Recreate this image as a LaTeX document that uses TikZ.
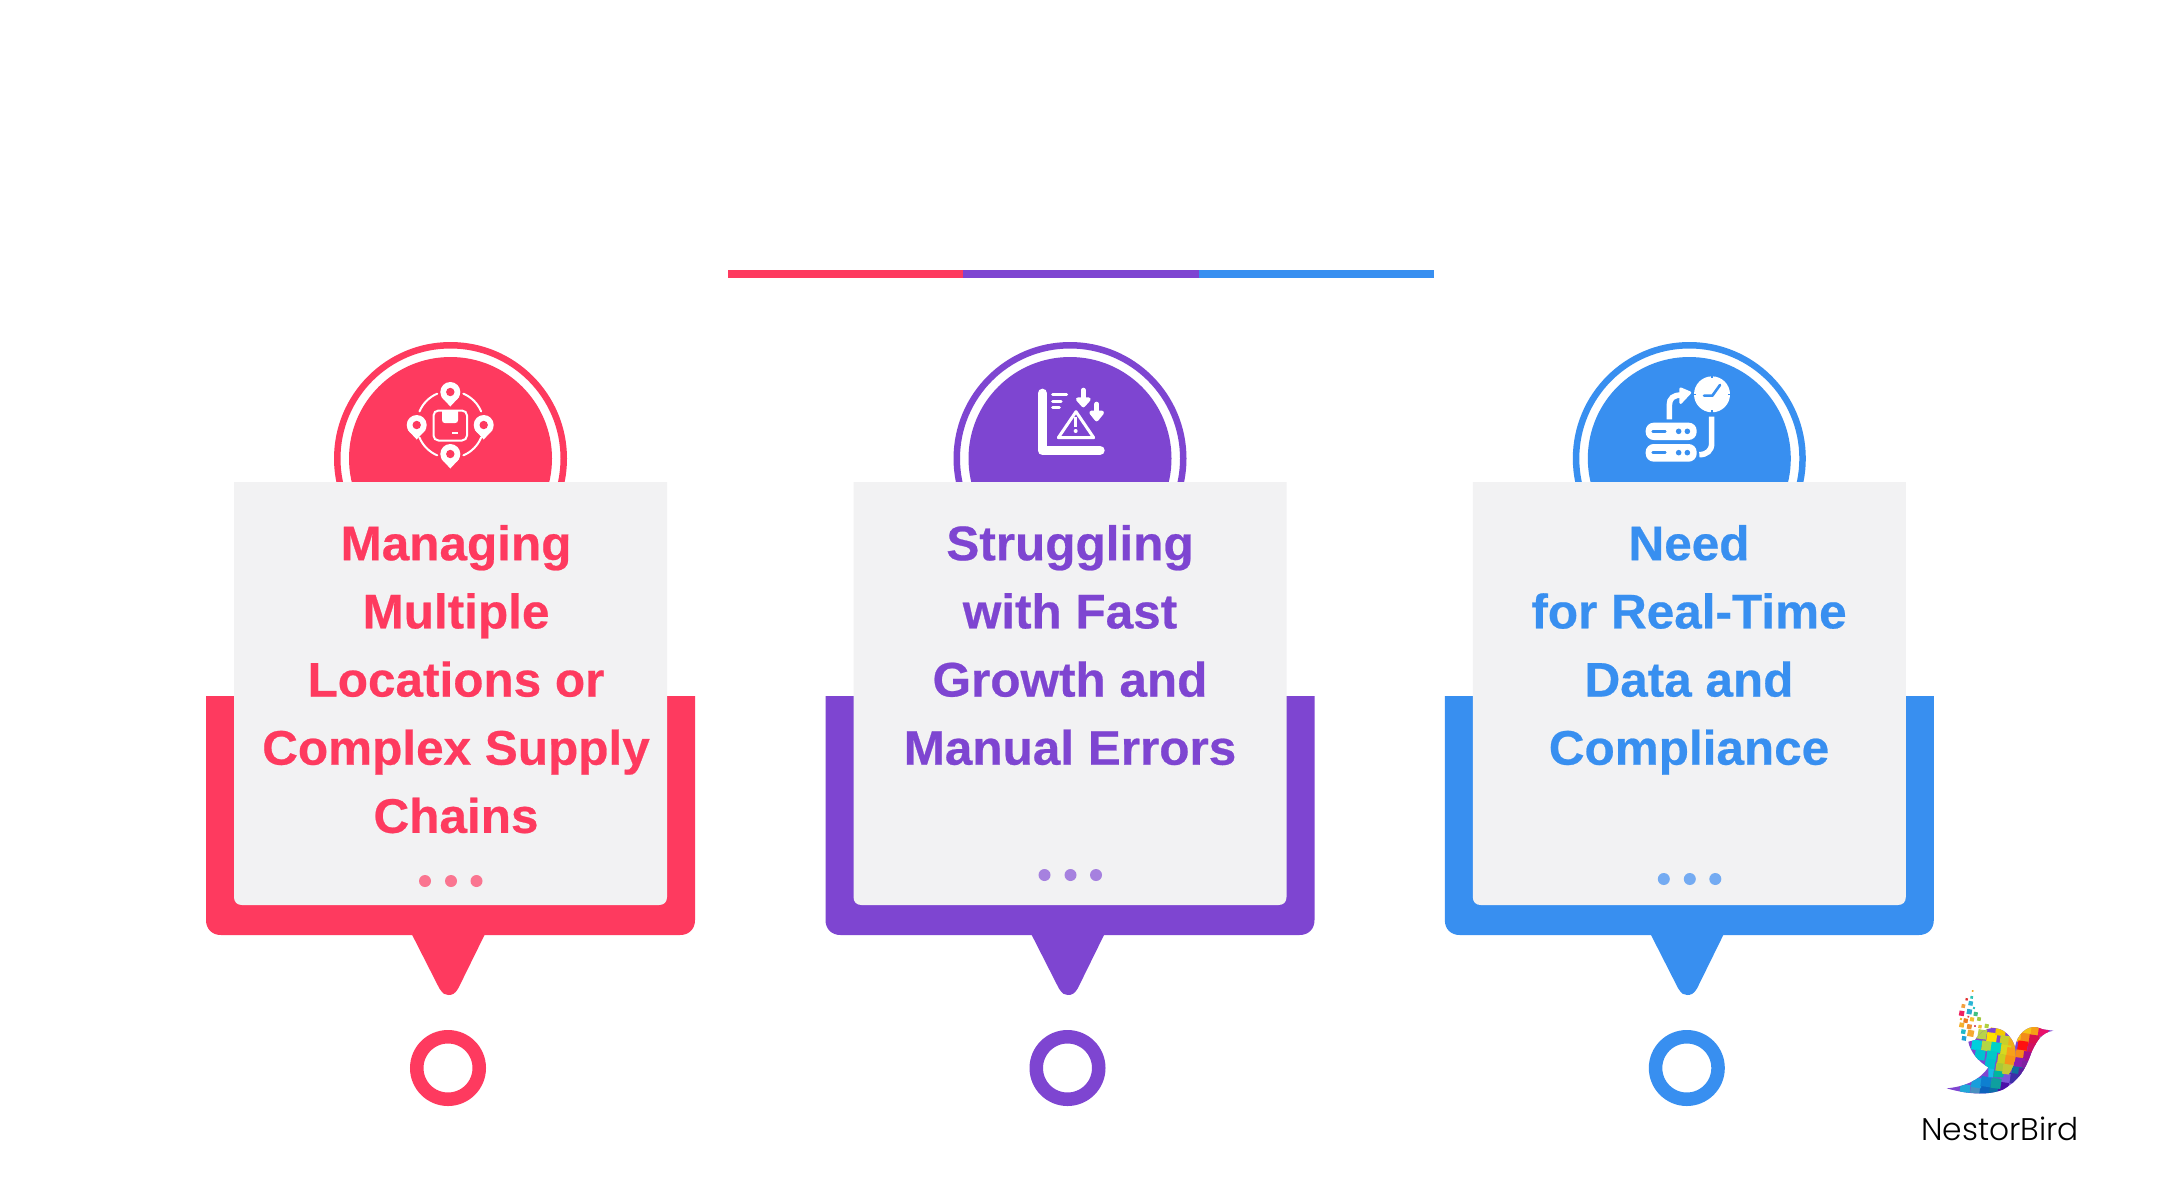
\documentclass[tikz,border=0pt]{standalone}
\usepackage{fontspec}
\newfontfamily\headfont[FakeStretch=1.02,FakeBold=0.5]{Liberation Sans}
\newfontfamily\logofont{Poppins Light}
\definecolor{cred}{HTML}{FE3A5F}
\definecolor{cpur}{HTML}{7E45D1}
\definecolor{cblu}{HTML}{388FF0}
\definecolor{cgray}{HTML}{F2F2F3}
\definecolor{dred}{HTML}{FA7590}
\definecolor{dpur}{HTML}{A681DF}
\definecolor{dblu}{HTML}{74ABF2}
\tikzset{
  cardtext/.style={font=\headfont\bfseries\fontsize{48.5}{68.15}\selectfont, align=center, anchor=north, inner sep=0pt},
  logotext/.style={font=\logofont\fontsize{31.3}{36}\selectfont, anchor=base, inner sep=0pt, text=black},
}
\newcommand{\mypin}[3]{%
  \fill[white] (#1,#2) circle[radius=10pt];
  \fill[white] (#1-8.8,#2+5) -- (#1,#2+14.5) -- (#1+8.8,#2+5) -- cycle;
  \fill[#3] (#1,#2) circle[radius=4.2pt];
}
\begin{document}
\begin{tikzpicture}[x=1pt,y=-1pt]
\useasboundingbox (0,0) rectangle (2160,1200);
\fill[white] (0,0) rectangle (2160,1200);
% top bar
\fill[cred] (728,270) rectangle (963,278);
\fill[cpur] (963,270) rectangle (1199,278);
\fill[cblu] (1199,270) rectangle (1434,278);
% cards
\foreach \dx/\c/\d/\dy in {0/cred/dred/881, 619.5/cpur/dpur/875, 1238.8/cblu/dblu/879}{
  \begin{scope}[shift={(\dx,0)}]
    \draw[\c, line width=6.5pt] (450.5,458.5) circle[radius=113.25pt];
    \fill[\c] (450.5,458.5) circle[radius=101.5pt];
    \fill[\c] (206,696) -- (206,920) .. controls (206,929) and (212,935) .. (221,935)
       -- (680,935) .. controls (689,935) and (695,929) .. (695,920) -- (695,696) -- cycle;
    \fill[\c] (411.7,934) -- (439.3,988.3) .. controls (443,994) and (445,995) .. (448.3,995)
       .. controls (452,995) and (455,994) .. (458.3,988.3) -- (485,934) -- cycle;
    \fill[cgray] (234,482) -- (234,897) .. controls (234,902) and (237,905) .. (242,905)
       -- (659,905) .. controls (664,905) and (667,902) .. (667,897) -- (667,482) -- cycle;
    \fill[\d] (425,\dy) circle[radius=6pt];
    \fill[\d] (451,\dy) circle[radius=6pt];
    \fill[\d] (476.5,\dy) circle[radius=6pt];
    \draw[\c, line width=13.5pt] (448,1068) circle[radius=31.25pt];
  \end{scope}
}
% texts
\node[cardtext, text=cred] (t1) at (456,520) {\rule{0pt}{40pt}Managing\\Multiple\\Locations or\\Complex Supply\\Chains};
\node[cardtext, text=cpur] (t2) at (1070,520) {\rule{0pt}{40pt}Struggling\\with Fast\\Growth and\\Manual Errors};
\node[cardtext, text=cblu] (t3) at (1689,520) {\rule{0pt}{40pt}Need\\for Real-Time\\Data and\\Compliance};
% icon 1
\mypin{450.3}{392}{cred}
\mypin{416.7}{425}{cred}
\mypin{483.7}{425}{cred}
\mypin{450.3}{454}{cred}
\foreach \a in {23,113,203,293}{
  \draw[white, line width=2pt, line cap=round] (450.3,424.5) ++(\a:33.5pt) arc[start angle=\a, delta angle=44, radius=33.5pt];
}
\draw[white, line width=2pt, rounded corners=5pt] (433.5,410.5) rectangle (467,440.5);
\fill[white] (442,410.5) -- (442,420) .. controls (442,422) and (443,423) .. (445,423) -- (455,423) .. controls (457,423) and (458,422) .. (458,420) -- (458,410.5) -- cycle;
\draw[white, line width=1.6pt] (452,433) -- (458,433);
% icon 2
\begin{scope}[shift={(950,330)}, x=0.33333pt, y=-0.33333pt]
  \draw[white, line width=9.4pt, line cap=round, line join=round] (277,190) -- (277,361) -- (450,361);
  \draw[white, line width=3pt, line cap=round] (308,193) -- (350,193);
  \draw[white, line width=3pt, line cap=round] (308,213) -- (333,213);
  \draw[white, line width=3pt, line cap=round] (308,233) -- (328,233);
  \draw[white, line width=4.6pt, line cap=round] (400,180) -- (400,210);
  \filldraw[white, line width=4pt, line join=round] (384,208) -- (400,226) -- (416,208) -- cycle;
  \draw[white, line width=4.6pt, line cap=round] (440,222) -- (440,250);
  \filldraw[white, line width=4pt, line join=round] (424,248) -- (440,268) -- (456,248) -- cycle;
  \draw[white, line width=3pt, line join=round] (378,245) -- (325,323) -- (431,323) -- cycle;
  \draw[white, line width=3pt] (377,262) -- (377,292);
  \fill[white] (377,303) circle[radius=2pt];
\end{scope}
% icon 3
\begin{scope}[shift={(1570,330)}, x=0.33333pt, y=-0.33333pt]
  \fill[white] (426,193) circle[radius=18pt];
  \foreach \a in {0,90,180,270}{
    \draw[cblu, line width=1.2pt] (426,193) ++(\a:18.5pt) -- ++(\a+180:2.5pt);
  }
  \draw[cblu, line width=2.6pt, line join=round, line cap=round] (450,165) -- (427,197) -- (402,197);
  \draw[white, line width=5.6pt] (298,268) -- (298,225) .. controls (298,205) and (310,195) .. (335,195);
  \filldraw[white, line width=2.5pt, line join=round] (332,176) -- (360,188) -- (332,218) -- cycle;
  \draw[white, line width=5.6pt] (425,260) -- (425,340) .. controls (425,362) and (410,374) .. (388,374);
  \fill[white, rounded corners=8pt] (227,278) rectangle (380,330);
  \fill[white, rounded corners=8pt] (227,342) rectangle (380,395);
  \foreach \yy in {304,368}{
    \draw[cblu, line width=2.4pt, line cap=round] (248,\yy) -- (286,\yy);
    \fill[cblu] (326,\yy) circle[radius=2.8pt];
    \fill[cblu] (352,\yy) circle[radius=2.8pt];
  }
\end{scope}
% logo: loose squares
\begin{scope}[shift={(1900,980)}, x=0.33333pt, y=-0.33333pt]
  \foreach \px/\py/\s/\h in {218/33/5/F5A623, 215/52/8/2EC4B6, 200/58/7/E03030, 212/70/13/2AB5D5, 190/78/11/F2A040, 222/84/6/2EC4C4, 208/95/15/2AAAD0, 185/100/15/EE2060, 227/102/12/40C080, 183/117/6/F5B030, 197/122/13/EE7A20, 216/118/12/F5C030, 237/117/11/A0C840, 205/110/5/E04040, 185/135/14/F5B030, 208/140/14/F09030, 225/138/5/D04060, 240/140/10/F0C030, 260/138/12/B0D040, 190/155/13/20B8C8, 212/160/19/F5A830, 192/175/13/20A0D8, 245/160/22/B8D34A, 278/150/14/F5C030}{
    \edef\tmpc{\noexpand\definecolor{tmpk}{HTML}{\h}}\tmpc
    \fill[tmpk, rotate around={-10:(\px,\py)}] ({\px-\s/2},{\py-\s/2}) rectangle ({\px+\s/2},{\py+\s/2});
  }
\end{scope}
% logo: bird mosaic
\begin{scope}[shift={(1960,990)}, x=0.33333pt, y=-0.33333pt]
  \begin{scope}
    \clip (-40,295) .. controls (10,290) and (55,275) .. (85,232) .. controls (55,215) and (30,185) .. (25,155) -- (45,150) .. controls (60,125) and (85,110) .. (110,115) .. controls (140,120) and (160,150) .. (165,172) .. controls (170,135) and (200,105) .. (232,112) .. controls (245,118) .. (280,122) .. controls (245,128) and (232,150) .. (215,185) .. controls (195,245) and (170,275) .. (130,298) .. controls (90,315) and (30,315) .. (-40,295) -- cycle;
    \fill[cpur] (-50,100) rectangle (290,320);
    % far wing and lower body first
    \foreach \px/\py/\h in {205/118/F5C416, 175/140/F5C01A, 228/125/F5A016, 250/125/E8106A, 197/145/F28C1A, 222/150/D8104E, 188/168/FF1010, 218/175/D01060, 182/195/F78A1A, 205/200/A0108F, 178/218/8E1CB0, 200/228/8020A0, 170/245/0F6F9F, 190/250/5A20A0, 160/265/3D2FA8, 135/265/7B55D9, 15/298/20A8D8, 47/295/4A8FC0, 75/298/0C62BD, 103/300/0D6EA8, 130/292/4B10A8, 50/278/1A9EDB, 78/275/0E7FD0, 108/280/0F9F9F}{
      \edef\tmpc{\noexpand\definecolor{tmpk}{HTML}{\h}}\tmpc
      \fill[tmpk, rotate around={-8:(\px,\py)}] ({\px-15},{\py-15}) rectangle ({\px+15},{\py+15});
    }
    % near wing on top, clipped to its own edge
    \clip (25,155) -- (45,150) .. controls (60,125) and (85,110) .. (110,115) .. controls (140,120) and (160,150) .. (165,172) .. controls (172,205) and (160,235) .. (140,262) -- (85,262) -- (85,232) .. controls (55,215) and (30,185) .. (25,155) -- cycle;
    \foreach \px/\py/\h in {65/132/B8D34A, 95/143/FFE100, 122/122/F5C800, 135/152/C9CF2A, 160/160/F0AD1A, 50/165/00CFDD, 80/168/B4D645, 108/172/00D2C8, 137/180/D8D81E, 60/195/00C2D0, 95/198/00C8C8, 128/208/C8D020, 155/188/F7A11A, 90/222/00BFCE, 122/235/A8C838, 150/212/F79418, 85/250/18BAE8, 115/258/00B6A0, 143/238/C5C833}{
      \edef\tmpc{\noexpand\definecolor{tmpk}{HTML}{\h}}\tmpc
      \fill[tmpk, rotate around={-8:(\px,\py)}] ({\px-15},{\py-15}) rectangle ({\px+15},{\py+15});
    }
  \end{scope}
\end{scope}
\node[logotext] (logo) at (2000,1140) {NestorBird};
\end{tikzpicture}
\end{document}
